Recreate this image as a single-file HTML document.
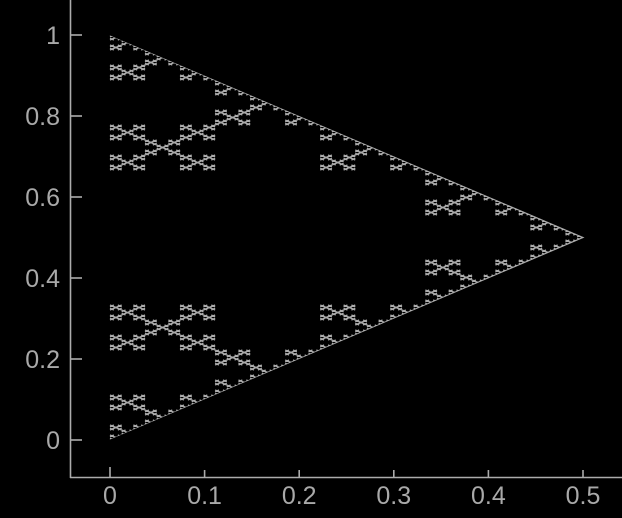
<!DOCTYPE html>
<html><head><meta charset="utf-8"><style>
html,body{margin:0;padding:0;background:#000;}
svg{display:block;}
text{font-family:"Liberation Sans",sans-serif;fill:#a9a9a9;font-size:25px;}
</style></head><body>
<svg id="chart" width="622" height="518" viewBox="0 0 622 518" xmlns="http://www.w3.org/2000/svg">
<rect width="622" height="518" fill="#000"/>
<defs><clipPath id="tri"><polygon id="tripoly" points="0,0 0,0 0,0"/></clipPath></defs>
<g id="axes"></g>
<g id="marks" clip-path="url(#tri)"></g>
</svg>
<script>
// Fractal generator digits (Vicsek saltire), depth, and triangle region
const digitX = [0, 0, 2, 2, 1];
const digitY = [0, 2, 0, 2, 1];
const depth = 5;
const triangleX = [0, 0, 0.5];
const triangleY = [0, 1, 0.5];
const xTicks = [0, 0.1, 0.2, 0.3, 0.4, 0.5];
const xTickLabels = ["0", "0.1", "0.2", "0.3", "0.4", "0.5"];
const yTicks = [0, 0.2, 0.4, 0.6, 0.8, 1];
const yTickLabels = ["0", "0.2", "0.4", "0.6", "0.8", "1"];

const NS = "http://www.w3.org/2000/svg";
const X0 = 110, XS = 946, Y0 = 440, YS = 405;
function sx(v){ return X0 + v * XS; }
function sy(v){ return Y0 - v * YS; }
const col = "#acacac";

const axes = document.getElementById("axes");
function line(parent, x1, y1, x2, y2, name){
  const l = document.createElementNS(NS, "line");
  l.setAttribute("x1", x1); l.setAttribute("y1", y1);
  l.setAttribute("x2", x2); l.setAttribute("y2", y2);
  l.setAttribute("stroke", col); l.setAttribute("stroke-width", "1.6");
  
  
  parent.appendChild(l);
  return l;
}
line(axes, 70.5, 0, 70.5, 478, "y-axis-line");
line(axes, 70, 477.5, 622, 477.5, "x-axis-line");
xTicks.forEach((t, i) => {
  const len = (i === 0) ? 10 : 7;
  line(axes, sx(t), 477, sx(t), 477 - len, "x-tick");
  const tx = document.createElementNS(NS, "text");
  tx.setAttribute("x", sx(t)); tx.setAttribute("y", 504);
  tx.setAttribute("text-anchor", "middle");
  tx.textContent = xTickLabels[i];
  
  
  axes.appendChild(tx);
});
yTicks.forEach((t, i) => {
  line(axes, 70, sy(t), 82, sy(t), "y-tick");
  const tx = document.createElementNS(NS, "text");
  tx.setAttribute("x", 60); tx.setAttribute("y", sy(t) + 9);
  tx.setAttribute("text-anchor", "end");
  tx.textContent = yTickLabels[i];
  
  
  axes.appendChild(tx);
});

// clip triangle
document.getElementById("tripoly").setAttribute("points",
  triangleX.map((v, i) => (sx(v) + (i === 2 ? 1.5 : -1)) + "," + sy(triangleY[i]) ).join(" "));

// fractal leaves
let d = "";
function rec(x0, y0, s, lvl){
  if (x0 > y0 + s + 1e-9 || x0 > 1 - y0 + 1e-9) return;
  if (lvl === depth){
    d += "M" + sx(x0).toFixed(2) + "," + sy(y0).toFixed(2) + "L" + sx(x0 + s).toFixed(2) + "," + sy(y0 + s).toFixed(2);
    d += "M" + sx(x0).toFixed(2) + "," + sy(y0 + s).toFixed(2) + "L" + sx(x0 + s).toFixed(2) + "," + sy(y0).toFixed(2);
    return;
  }
  const ns = s / 3;
  for (let k = 0; k < digitX.length; k++){
    rec(x0 + digitX[k] * ns, y0 + digitY[k] * ns, ns, lvl + 1);
  }
}
rec(0, 0, 1, 0);
const p = document.createElementNS(NS, "path");
p.setAttribute("d", d);
p.setAttribute("fill", "none");
p.setAttribute("stroke", col);
p.setAttribute("stroke-width", "1.4");


document.getElementById("marks").appendChild(p);
</script>
</body></html>
